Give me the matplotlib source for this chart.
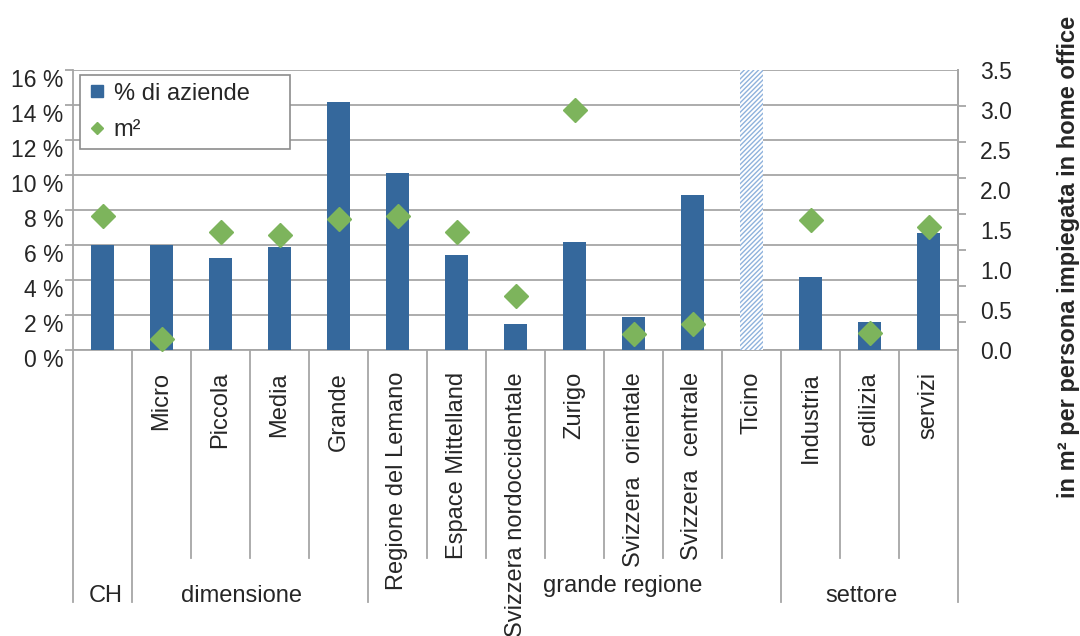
import numpy as np
import matplotlib
matplotlib.use("Agg")
import matplotlib.pyplot as plt
from matplotlib.lines import Line2D
from matplotlib.transforms import ScaledTranslation, blended_transform_factory

plt.rcParams['font.family'] = ['Liberation Sans', 'DejaVu Sans']

# Dati
categorie = ["CH", "Micro", "Piccola", "Media", "Grande",
             "Regione del Lemano", "Espace Mittelland", "Svizzera nordoccidentale",
             "Zurigo", "Svizzera  orientale", "Svizzera  centrale", "Ticino",
             "Industria", "edilizia", "servizi"]
quota_aziende = [6.0, 6.0, 5.25, 5.9, 14.2, 10.1, 5.45, 1.5, 6.2, 1.9, 8.85, 16.0, 4.2, 1.6, 6.7]
m2_persona = [1.67, 0.14, 1.48, 1.44, 1.64, 1.67, 1.48, 0.67, 3.0, 0.2, 0.33, np.nan, 1.63, 0.21, 1.54]
tratteggiato = [False] * 11 + [True] + [False] * 3  # Ticino: barra solo indicativa

gruppi = ["CH", "dimensione", "grande regione", "settore"]
gruppi_inizio = [0, 1, 5, 12]
gruppi_x = [0.06, 2.35, 8.82, 12.87]
gruppi_y = [-0.9, -0.9, -0.864, -0.9]

BLU = '#35689c'
VERDE = '#7db45c'
GRIGIO = '#a6a6a6'
TESTO = '#262626'
FS = 17

fig = plt.figure(figsize=(10.8, 6.36), dpi=100)
ax = fig.add_axes([73 / 1080, 1 - 350 / 636, 885 / 1080, 280 / 636])

x = np.arange(len(categorie))
barre = ax.bar(x, quota_aziende, width=0.385, color=BLU, zorder=3)
for b, t in zip(barre, tratteggiato):
    if t:
        b.set_facecolor('white')
        b.set_edgecolor('#8fb2dc')
        b.set_hatch('///////')
        b.set_linewidth(0)

ax.set_xlim(-0.5, len(categorie) - 0.5)
ax.set_ylim(0, 16)
ax.set_xticks([])
yt = np.arange(0, 17, 2)
ax.set_yticks(yt)
ax.set_yticklabels([f"{v} %" for v in yt])
ax.yaxis.grid(True, color=GRIGIO, lw=1.3)
ax.set_axisbelow(True)
ax.tick_params(axis='y', length=6, width=1.3, color=GRIGIO, pad=1, labelsize=16.5, labelcolor=TESTO)
ax.spines['top'].set_visible(False)
for s in ['left', 'bottom', 'right']:
    ax.spines[s].set_color(GRIGIO)
    ax.spines[s].set_linewidth(1.3)
# etichette percentuali leggermente sotto le linee
spost = ScaledTranslation(0, -8 / 100, fig.dpi_scale_trans)
for lab in ax.get_yticklabels():
    lab.set_transform(lab.get_transform() + spost)

# asse secondario (m2)
ax2 = ax.twinx()
ax2.set_ylim(0, 3.5)
yt2 = np.arange(0, 3.51, 0.5)
ax2.set_yticks(yt2)
ax2.set_yticklabels([f"{v:.1f}" for v in yt2])
ax2.set_yticks(3.5 - 0.45 * np.arange(8), minor=True)
ax2.tick_params(axis='y', which='major', length=0, pad=16, labelsize=16.5, labelcolor=TESTO)
ax2.tick_params(axis='y', which='minor', length=6, width=1.3, color=GRIGIO)
for s in ['left', 'bottom', 'top']:
    ax2.spines[s].set_visible(False)
ax2.spines['right'].set_color(GRIGIO)
ax2.spines['right'].set_linewidth(1.3)
ax2.plot(x, m2_persona, 'D', ms=12.5, color=VERDE, zorder=4, clip_on=False)

# tabella delle categorie sotto il grafico
trans = blended_transform_factory(ax.transData, ax.transAxes)
confini = gruppi_inizio + [len(categorie)]
for k in range(len(categorie) + 1):
    y_fondo = -0.9 if k in confini else -0.743
    ax.plot([k - 0.5, k - 0.5], [0, y_fondo], transform=trans, color=GRIGIO,
            lw=1.3, clip_on=False)
for i, c in enumerate(categorie):
    if c in gruppi:
        continue
    ax.text(i, -22 / 280, c, rotation=90, ha='center', va='top', transform=trans,
            fontsize=FS, color=TESTO)
for g, gx, gy in zip(gruppi, gruppi_x, gruppi_y):
    ax.text(gx, gy, g, ha='center', va='baseline', transform=trans, fontsize=FS, color=TESTO)

fig.text(1068 / 1080, 1 - 257 / 636, "in m² per persona impiegata in home office",
         rotation=90, ha='center', va='center', fontweight='bold', fontsize=17, color=TESTO)

maniglie = [Line2D([], [], ls='none', marker='s', ms=8, color=BLU),
            Line2D([], [], ls='none', marker='D', ms=6.5, color=VERDE)]
leg = ax2.legend(maniglie, ["% di aziende", "m²"], loc='upper left',
                 bbox_to_anchor=(7 / 885, 0, 210 / 885, 275 / 280), mode='expand',
                 borderaxespad=0, fontsize=FS, frameon=True, fancybox=False,
                 framealpha=1, edgecolor='#8c8c8c', borderpad=0.32, labelspacing=0.63,
                 handlelength=0.8, handletextpad=0.3)
leg.get_frame().set_linewidth(1.2)
for t in leg.get_texts():
    t.set_color(TESTO)

fig.savefig("out.png", dpi=100)
